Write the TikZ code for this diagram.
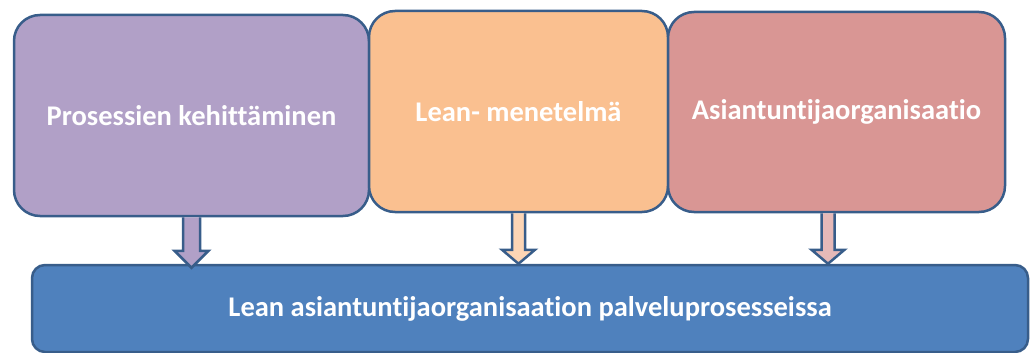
\documentclass[tikz,border=0pt]{standalone}
\usepackage{fontspec}
\setmainfont{Carlito}[Ligatures=NoCommon]
\usetikzlibrary{calc}
\definecolor{procfill}{HTML}{B1A0C7}
\definecolor{leanfill}{HTML}{FAC090}
\definecolor{orgfill}{HTML}{D99694}
\definecolor{basefill}{HTML}{4F81BD}
\definecolor{edgeblue}{HTML}{385D8A}
\definecolor{leanarrow}{HTML}{FCD5B5}
\definecolor{orgarrow}{HTML}{E6B9B8}

\begin{document}
\begin{tikzpicture}[x=1pt,y=-1pt,
  topbox/.style={draw=edgeblue,line width=2.5pt,rounded corners=26pt,
    text=white,font=\fontsize{28.5}{32}\selectfont\bfseries},
  basebox/.style={draw=edgeblue,line width=2.5pt,rounded corners=13pt,fill=basefill,
    text=white,font=\fontsize{28.5}{32}\selectfont\bfseries},
  arrowline/.style={draw=edgeblue,line width=2.5pt,line join=miter}]
\useasboundingbox (0,0) rectangle (1030,353);
% lower box
\node[basebox,minimum width=996pt,minimum height=87pt] (low) at (530,308.5) {Lean asiantuntijaorganisaation palveluprosesseissa};
% three upper boxes
\node[topbox,fill=procfill,minimum width=355pt,minimum height=201pt] (proc) at (191.5,115.5) {Prosessien kehittäminen};
\node[topbox,fill=leanfill,minimum width=299pt,minimum height=201pt] (lean) at (518.5,111.5) {Lean- menetelmä};
\node[topbox,fill=orgfill,minimum width=337pt,minimum height=200pt] (org) at (836.5,112) {Asiantuntijaorganisaatio};
% arrows down
\coordinate (a1) at (proc.south);
\coordinate (a1tip) at ($(a1 |- low.north)+(0,4)$);
\coordinate (a2) at (lean.south);
\coordinate (a2tip) at (a2 |- low.north);
\coordinate (a3) at ($(org.south)+(-8.5,0)$);
\coordinate (a3tip) at (a3 |- low.north);
\draw[arrowline,fill=procfill] ($(a1)+(-8.5,0)$) -- ($(a1tip)+(-8.5,-17)$) -- ($(a1tip)+(-17,-17)$) -- (a1tip)
  -- ($(a1tip)+(17,-17)$) -- ($(a1tip)+(8.5,-17)$) -- ($(a1)+(8.5,0)$);
\draw[arrowline,fill=leanarrow] ($(a2)+(-6.5,0)$) -- ($(a2tip)+(-6.5,-14)$) -- ($(a2tip)+(-16.5,-14)$) -- (a2tip)
  -- ($(a2tip)+(16.5,-14)$) -- ($(a2tip)+(6.5,-14)$) -- ($(a2)+(6.5,0)$);
\draw[arrowline,fill=orgarrow] ($(a3)+(-6.5,0)$) -- ($(a3tip)+(-6.5,-14)$) -- ($(a3tip)+(-16.5,-14)$) -- (a3tip)
  -- ($(a3tip)+(16.5,-14)$) -- ($(a3tip)+(6.5,-14)$) -- ($(a3)+(6.5,0)$);
\end{tikzpicture}
\end{document}
